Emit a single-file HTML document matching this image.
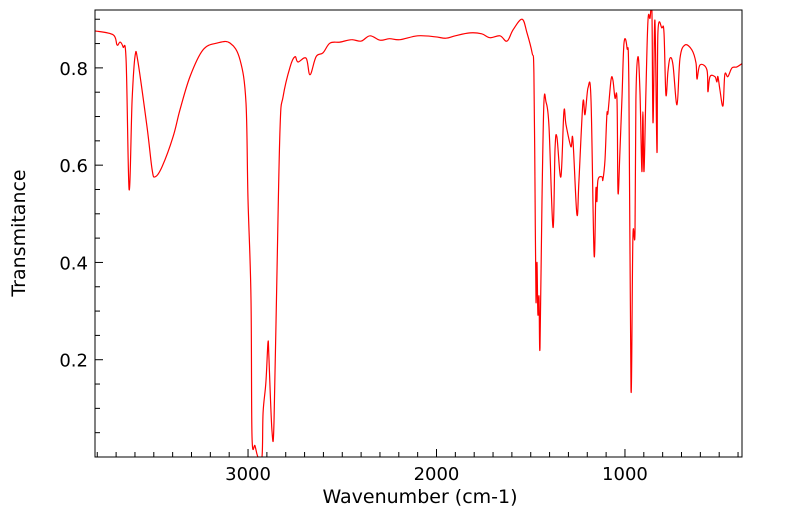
<!DOCTYPE html>
<html><head><meta charset="utf-8"><style>
body{margin:0;background:#fff}
svg text{font-family:"DejaVu Sans","Liberation Sans",sans-serif;fill:#000}
</style></head><body>
<svg id="c" width="799" height="516"></svg>
<script>
const wavenumbers=[3812,3716,3695,3679,3663,3647,3631,3615,3599,3584,3536,3509,3493,3456,3398,3361,3308,3239,3164,3095,3042,3011,3000,2984,2979,2963,2947,2926,2920,2905,2894,2889,2873,2862,2846,2830,2814,2777,2751,2735,2692,2671,2639,2602,2565,2512,2450,2400,2353,2300,2250,2194,2100,2008,1950,1900,1822,1760,1716,1663,1626,1594,1546,1520,1493,1483,1477,1472,1467,1462,1456,1451,1440,1430,1419,1403,1382,1371,1361,1340,1324,1313,1287,1276,1255,1244,1223,1212,1196,1180,1164,1154,1149,1143,1122,1117,1106,1096,1090,1074,1064,1053,1042,1037,1027,1016,1005,989,979,968,958,947,942,931,920,910,905,899,889,878,867,857,851,841,830,825,804,793,783,772,761,745,724,708,682,645,623,618,602,565,560,549,523,512,507,496,480,470,454,432,406,374];
const transmittance=[0.876,0.868,0.847,0.853,0.843,0.816,0.55,0.734,0.825,0.812,0.679,0.591,0.576,0.597,0.658,0.714,0.782,0.837,0.851,0.851,0.816,0.728,0.53,0.324,0.043,0.023,0,0,0.092,0.154,0.236,0.201,0.053,0.072,0.392,0.679,0.741,0.802,0.823,0.812,0.82,0.786,0.823,0.831,0.851,0.853,0.858,0.855,0.866,0.857,0.86,0.858,0.866,0.864,0.861,0.866,0.872,0.87,0.862,0.866,0.855,0.878,0.9,0.872,0.831,0.79,0.529,0.32,0.4,0.293,0.33,0.225,0.529,0.728,0.73,0.679,0.472,0.632,0.658,0.576,0.71,0.683,0.638,0.652,0.499,0.57,0.728,0.704,0.759,0.734,0.416,0.55,0.525,0.57,0.576,0.57,0.611,0.704,0.708,0.775,0.775,0.738,0.734,0.544,0.626,0.734,0.851,0.841,0.761,0.139,0.451,0.461,0.734,0.823,0.749,0.587,0.71,0.587,0.749,0.898,0.902,0.92,0.687,0.898,0.626,0.872,0.882,0.872,0.745,0.792,0.82,0.806,0.724,0.82,0.847,0.837,0.81,0.777,0.806,0.796,0.751,0.782,0.782,0.771,0.782,0.755,0.722,0.786,0.782,0.8,0.802,0.81];
const xTicks=[3000,2000,1000];
const yTicks=[0.2,0.4,0.6,0.8];
const L=95,R=742,T=10,B=457;
const X0=3812,X1=379,Y0=0,Y1=0.919;
const sx=v=>L+(X0-v)/(X0-X1)*(R-L);
const sy=v=>B-(v-Y0)/(Y1-Y0)*(B-T);
const svg=document.getElementById('c');
const NS='http://www.w3.org/2000/svg';
function mk(t,a){const e=document.createElementNS(NS,t);for(const k in a)e.setAttribute(k,a[k]);svg.appendChild(e);return e;}
const defs=mk('defs',{});
const cp=document.createElementNS(NS,'clipPath');cp.setAttribute('id','clip');
const cr=document.createElementNS(NS,'rect');cr.setAttribute('x',L);cr.setAttribute('y',T);cr.setAttribute('width',R-L);cr.setAttribute('height',B-T);
cp.appendChild(cr);defs.appendChild(cp);
const P=wavenumbers.map((w,i)=>[sx(w),sy(transmittance[i])]);
let d='M'+P[0][0].toFixed(1)+' '+P[0][1].toFixed(1);
for(let i=0;i<P.length-1;i++){const p0=P[Math.max(0,i-1)],p1=P[i],p2=P[i+1],p3=P[Math.min(P.length-1,i+2)];
 const k=0.35;
 let c1x=p1[0]+(p2[0]-p0[0])*k/2,c1y=p1[1]+(p2[1]-p0[1])*k/2;
 let c2x=p2[0]-(p3[0]-p1[0])*k/2,c2y=p2[1]-(p3[1]-p1[1])*k/2;
 d+='C'+c1x.toFixed(1)+' '+c1y.toFixed(1)+' '+c2x.toFixed(1)+' '+c2y.toFixed(1)+' '+p2[0].toFixed(1)+' '+p2[1].toFixed(1);}
const line=mk('path',{d:d,fill:'none',stroke:'#ff0000','stroke-width':1.2,'clip-path':'url(#clip)'});


const frame=mk('rect',{x:L,y:T,width:R-L,height:B-T,fill:'none',stroke:'#000','stroke-width':1});


for(let w=3800;w>=400;w-=100){const x=sx(w);const maj=w%1000===0;
 const t=mk('line',{x1:x,x2:x,y1:B,y2:B-(maj?8:5),stroke:'#000'});
 
 }
xTicks.forEach(w=>{const t=mk('text',{x:sx(w),y:480,'text-anchor':'middle','font-size':18});t.textContent=w;
 
 });
for(let k=1;k<=18;k++){const v=k*0.05;if(v>Y1)break;const y=sy(v);const maj=k%4===0;
 const t=mk('line',{x1:L,x2:L+(maj?8:5),y1:y,y2:y,stroke:'#000'});
 
 }
yTicks.forEach(v=>{const t=mk('text',{x:88,y:sy(v)+7,'text-anchor':'end','font-size':18});t.textContent=v.toFixed(1);
 
 });
const xt=mk('text',{x:420,y:503,'text-anchor':'middle','font-size':19});xt.textContent='Wavenumber (cm-1)';


const yt=mk('text',{x:0,y:0,'text-anchor':'middle','font-size':19,transform:'translate(25,233) rotate(-90)'});yt.textContent='Transmitance';


</script>
</body></html>
